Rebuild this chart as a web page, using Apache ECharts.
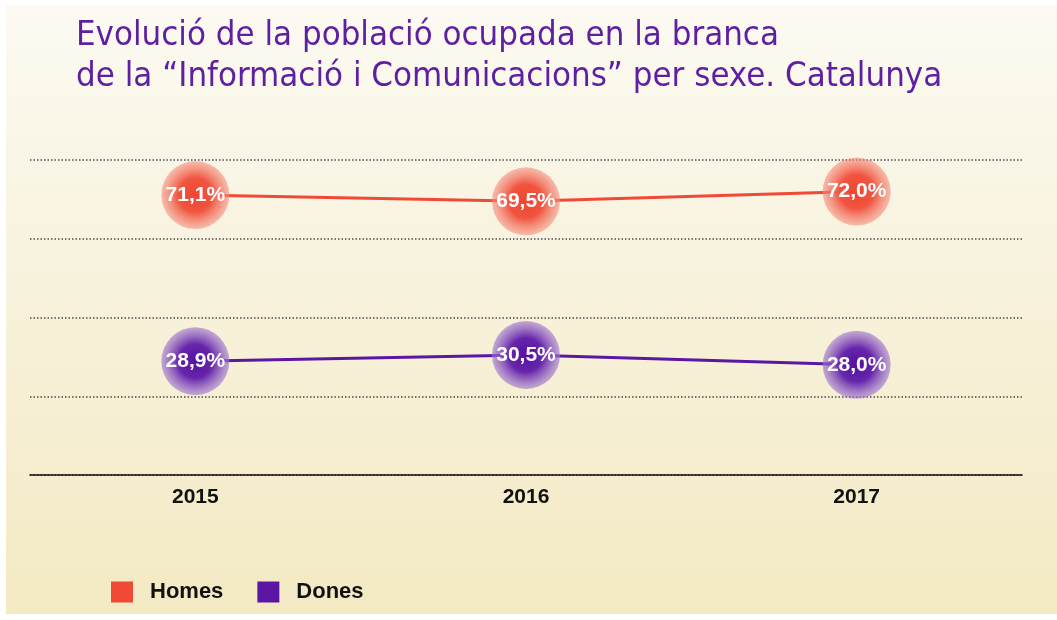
<!DOCTYPE html>
<html>
<head>
<meta charset="utf-8">
<script src="https://cdn.jsdelivr.net/npm/echarts@6/dist/echarts.min.js"></script>
<style>
  html, body { margin: 0; padding: 0; background: #ffffff; }
  #chart { width: 1057px; height: 620px; }
</style>
</head>
<body>
<div id="chart"></div>
<script>
// Years on the x axis
const years = ['2015', '2016', '2017'];
// Share of employed population (%) by sex
const homes = [71.1, 69.5, 72.0];
const dones = [28.9, 30.5, 28.0];
// Series names shown in the legend
const seriesNames = ['Homes', 'Dones'];

const RED = '#f04a36';
const PURPLE = '#5b17a3';

function pct(v) {
  return v.toFixed(1).replace('.', ',') + '%';
}

function ball(center, mid, edge) {
  return {
    type: 'radial', x: 0.5, y: 0.5, r: 0.5,
    colorStops: [
      { offset: 0, color: center },
      { offset: 0.5, color: mid },
      { offset: 1, color: edge }
    ]
  };
}

function lineSeries(name, data, color, fill) {
  return {
    name: name,
    type: 'line',
    data: data,
    color: color,
    lineStyle: { color: color, width: 3 },
    symbol: 'circle',
    symbolSize: 68,
    itemStyle: { color: fill },
    emphasis: { disabled: true },
    label: {
      show: true,
      position: 'inside',
      formatter: p => pct(p.value),
      color: '#ffffff',
      fontFamily: 'Liberation Sans, Arial, sans-serif',
      fontWeight: 'bold',
      fontSize: 21
    },
    z: 3
  };
}

const chart = echarts.init(document.getElementById('chart'), null, { renderer: 'canvas' });

chart.setOption({
  animation: false,
  graphic: [
    {
      type: 'rect',
      left: 6, top: 5, z: -10,
      shape: { width: 1051, height: 609 },
      style: {
        fill: new echarts.graphic.LinearGradient(0, 0, 0, 1, [
          { offset: 0, color: '#fcfaf2' },
          { offset: 1, color: '#f3e9c3' }
        ])
      },
      silent: true
    },
    {
      type: 'text',
      left: 76, top: 16,
      style: {
        text: 'Evolució de la població ocupada en la branca\nde la “Informació i Comunicacions” per sexe. Catalunya',
        fill: '#5e1fa3',
        font: '34.5px "Liberation Sans Narrow", "DejaVu Sans Condensed", sans-serif',
        lineHeight: 41
      }
    }
  ],
  legend: {
    left: 106, top: 576,
    itemWidth: 22, itemHeight: 21,
    itemGap: 34,
    icon: 'rect',
    data: [
      { name: seriesNames[0], itemStyle: { color: RED } },
      { name: seriesNames[1], itemStyle: { color: PURPLE } }
    ],
    textStyle: {
      color: '#111111',
      fontFamily: 'Liberation Sans, Arial, sans-serif',
      fontWeight: 'bold',
      fontSize: 22,
      padding: [0, 0, 0, 12]
    },
    selectedMode: false
  },
  grid: { left: 30, right: 35, top: 160, bottom: 145 },
  xAxis: {
    type: 'category',
    data: years,
    boundaryGap: true,
    axisLine: { show: true, lineStyle: { color: '#111111', width: 1.5 } },
    axisTick: { show: false },
    axisLabel: {
      color: '#111111',
      fontFamily: 'Liberation Sans, Arial, sans-serif',
      fontWeight: 'bold',
      fontSize: 21,
      margin: 12
    }
  },
  yAxis: {
    type: 'value',
    min: 0, max: 80, interval: 20,
    axisLine: { show: false },
    axisTick: { show: false },
    axisLabel: { show: false },
    splitLine: {
      show: true,
      lineStyle: { color: '#4a4a4a', width: 1.5, type: [1.5, 2] }
    }
  },
  series: [
    lineSeries(seriesNames[0], homes, RED,
      ball('#ef4530', '#f05540', 'rgba(244,140,122,0.55)')),
    lineSeries(seriesNames[1], dones, PURPLE,
      ball('#5510a0', '#6626ab', 'rgba(160,120,205,0.6)'))
  ]
});
</script>
</body>
</html>
